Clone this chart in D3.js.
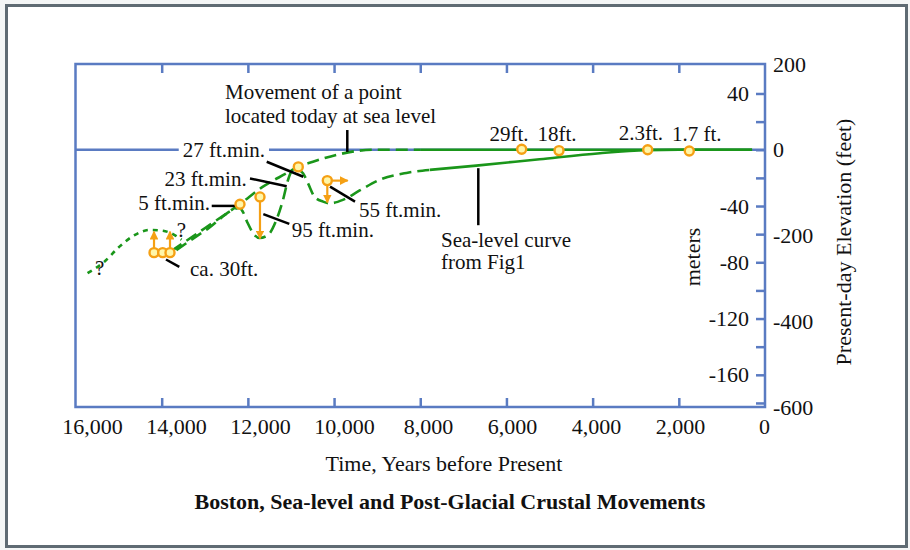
<!DOCTYPE html>
<html>
<head>
<meta charset="utf-8">
<script src="https://cdn.jsdelivr.net/npm/d3@7"></script>
<style>
  body { margin: 0; background: #f4f6f6; }
  svg { display: block; font-family: "Liberation Serif", "Times New Roman", serif; }
</style>
</head>
<body>
<svg id="chart" width="910" height="550"></svg>
<script>
// axis ticks and labels
const yearTicks = [14000, 12000, 10000, 8000, 6000, 4000, 2000];
const yearLabels = [16000, 14000, 12000, 10000, 8000, 6000, 4000, 2000, 0];
const meterTicks = [40, 20, 0, -20, -40, -60, -80, -100, -120, -140, -160, -180];
const meterLabels = [40, -40, -80, -120, -160];
const feetLabels = [200, 0, -200, -400, -600];

// curves, [years before present, feet]
const seaLevelDotted = [[15720, -288], [15330, -261], [14980, -226], [14630, -199], [14280, -187], [13970, -189], [13700, -199], [13540, -210]];
const seaLevelDashed = [[13660, -234], [12940, -185], [12190, -136], [12115, -145], [12005, -171], [11845, -199], [11730, -206], [11535, -199], [11340, -164], [11185, -117], [11070, -71], [10985, -50], [10870, -45], [10720, -55], [10605, -78], [10450, -110], [10255, -121], [10100, -125], [9795, -117], [9405, -95], [8940, -70], [8320, -54], [7780, -47]];
const seaLevelSolid = [[7780, -47], [6700, -37], [5230, -22], [3830, -8], [2750, -1], [2000, 0], [300, 0]];
const crustDashed = [[13770, -236], [13000, -183], [12190, -127], [11650, -86], [11105, -55], [10840, -40], [10490, -28], [9945, -12], [9405, -2], [9050, 0], [8000, 0]];
const crustSolid = [[8000, 0], [300, 0]];

// dated samples
const samples = [[14178, -240], [13977, -240], [13807, -240], [12183, -127], [11719, -110], [10830, -40], [10157, -72], [5646, 1], [4780, -2], [2722, 0], [1757, -3]];
const arrows = [
  [[14178, -240], [14178, -191]],
  [[13807, -240], [13807, -191]],
  [[11719, -110], [11719, -207]],
  [[10157, -72], [9684, -72]],
  [[10157, -72], [10157, -123]]
];

// annotations
const leaders = [
  [[11563, -28], [10714, -63]],
  [[11951, -67], [11099, -85]],
  [[12839, -131], [12259, -131]],
  [[11642, -150], [11039, -173]],
  [[10094, -86], [9514, -121]],
  [[13900, -256], [13591, -273]],
  [[9693, 46], [9693, -5]],
  [[6653, -43], [6653, -176]]
];
const notes = [
  { text: "27 ft.min.", at: [11603, -17], anchor: "end", halo: true },
  { text: "23 ft.min.", at: [12027, -85], anchor: "end" },
  { text: "5 ft.min.", at: [12879, -141], anchor: "end" },
  { text: "95 ft.min.", at: [10983, -203], anchor: "start" },
  { text: "55 ft.min.", at: [9421, -156], anchor: "start" },
  { text: "ca. 30ft.", at: [13343, -295], anchor: "start" },
  { text: "?", at: [15547, -292], anchor: "start" },
  { text: "?", at: [13652, -204], anchor: "start" },
  { text: "29ft.", at: [5941, 20], anchor: "middle" },
  { text: "18ft.", at: [4827, 20], anchor: "middle" },
  { text: "2.3ft.", at: [2878, 23], anchor: "middle" },
  { text: "1.7 ft.", at: [1585, 20], anchor: "middle" },
  { text: "Movement of a point", at: [12531, 118], anchor: "start" },
  { text: "located today at sea level", at: [12531, 63], anchor: "start" },
  { text: "Sea-level curve", at: [7519, -226], anchor: "start" },
  { text: "from Fig1", at: [7519, -277], anchor: "start" }
];

const blue = "#5a7bc2", green = "#1a961a", orange = "#f5a014";
const FT = 0.3048;

const svg = d3.select("#chart");

// outer frame
svg.append("rect")
  .attr("x", 6.5).attr("y", 5.5).attr("width", 900).attr("height", 541)
  .attr("fill", "white").attr("stroke", "#5f6b73").attr("stroke-width", 3);

const plotL = 75.5, plotR = 765, plotT = 64, plotB = 407;
const x = d3.scaleLinear().domain([16000, 0]).range([plotL, plotR]);
const xLab = d3.scaleLinear().domain([16000, 0]).range([92, 764]);
const yFt = d3.scaleLinear().domain([-600, 200]).range([plotB, plotT]);
const yM = d3.scaleLinear().domain([-600 * FT, 200 * FT]).range([plotB, plotT]);

// zero line
svg.append("line")
  .attr("x1", plotL).attr("x2", plotR)
  .attr("y1", yFt(0)).attr("y2", yFt(0))
  .attr("stroke", blue).attr("stroke-width", 2.5);

// ticks
function styleAxis(g) {
  g.select(".domain").remove();
  g.selectAll(".tick line").attr("stroke", blue).attr("stroke-width", 2.5);
  g.selectAll("text").attr("fill", "#111").style("font-size", "22px")
    .style("font-family", "'Liberation Serif', 'Times New Roman', serif");
}

svg.append("g").attr("transform", `translate(0,${plotB})`)
  .call(d3.axisTop(x).tickValues(yearTicks).tickSize(9).tickFormat(""))
  .call(styleAxis);
svg.append("g").attr("transform", `translate(0,${plotT})`)
  .call(d3.axisBottom(x).tickValues(yearTicks).tickSize(9).tickFormat(""))
  .call(styleAxis);
svg.append("g").attr("transform", `translate(0,${plotB})`)
  .call(d3.axisBottom(xLab).tickValues(yearLabels).tickSize(0).tickPadding(11).tickFormat(d3.format(",")))
  .call(styleAxis);

svg.append("g").attr("transform", `translate(${plotR},0)`)
  .call(d3.axisLeft(yM).tickValues(meterTicks).tickSize(9).tickPadding(7)
    .tickFormat(d => meterLabels.includes(d) ? String(d) : ""))
  .call(styleAxis);
svg.append("g").attr("transform", `translate(${plotR},0)`)
  .call(d3.axisRight(yFt).tickValues(feetLabels).tickSize(0).tickPadding(8).tickFormat(d => String(d)))
  .call(styleAxis);

// plot box
svg.append("rect")
  .attr("x", plotL).attr("y", plotT).attr("width", plotR - plotL).attr("height", plotB - plotT)
  .attr("fill", "none").attr("stroke", blue).attr("stroke-width", 2.5);

// curves
const line = d3.line().x(d => x(d[0])).y(d => yFt(d[1])).curve(d3.curveMonotoneX);
const curves = [
  [seaLevelDotted, "5,5"],
  [seaLevelDashed, "12,6"],
  [seaLevelSolid, null],
  [crustDashed, "12,6"],
  [crustSolid, null]
];
curves.forEach(([data, dash]) => {
  svg.append("path").datum(data)
    .attr("d", line)
    .attr("fill", "none").attr("stroke", green).attr("stroke-width", 2.6)
    .attr("stroke-dasharray", dash);
});

// leader lines
svg.append("g").selectAll("line").data(leaders).join("line")
  .attr("x1", d => x(d[0][0])).attr("y1", d => yFt(d[0][1]))
  .attr("x2", d => x(d[1][0])).attr("y2", d => yFt(d[1][1]))
  .attr("stroke", "#000").attr("stroke-width", 2.5);

// arrows
svg.append("defs").append("marker")
  .attr("id", "head").attr("viewBox", "0 0 10 10").attr("refX", 9).attr("refY", 5)
  .attr("markerWidth", 4).attr("markerHeight", 4).attr("orient", "auto")
  .append("path").attr("d", "M0,0L10,5L0,10Z").attr("fill", orange);

svg.append("g").selectAll("line").data(arrows).join("line")
  .attr("x1", d => x(d[0][0])).attr("y1", d => yFt(d[0][1]))
  .attr("x2", d => x(d[1][0])).attr("y2", d => yFt(d[1][1]))
  .attr("stroke", orange).attr("stroke-width", 2.2)
  .attr("marker-end", "url(#head)");

// sample circles
svg.append("g").selectAll("circle").data(samples).join("circle")
  .attr("cx", d => x(d[0])).attr("cy", d => yFt(d[1])).attr("r", 4.5)
  .attr("fill", "#fff6a8").attr("stroke", orange).attr("stroke-width", 2.4);

// notes
const noteG = svg.append("g");
const noteText = noteG.selectAll("text").data(notes).join("text")
  .attr("x", d => x(d.at[0])).attr("y", d => yFt(d.at[1]))
  .attr("text-anchor", d => d.anchor)
  .style("font-size", "21px").attr("fill", "#111")
  .text(d => d.text);

// white gap behind labels that sit on the zero line
noteText.filter(d => d.halo).each(function () {
  const b = this.getBBox();
  noteG.insert("rect", "text")
    .attr("x", b.x - 4).attr("y", b.y + 2).attr("width", b.width + 8).attr("height", b.height - 4)
    .attr("fill", "white");
});

// axis titles
svg.append("text").attr("transform", "translate(700,257) rotate(-90)")
  .attr("text-anchor", "middle").style("font-size", "22px").attr("fill", "#111").text("meters");
svg.append("text").attr("transform", "translate(851,242) rotate(-90)")
  .attr("text-anchor", "middle").style("font-size", "22px").attr("fill", "#111").text("Present-day Elevation (feet)");
svg.append("text").attr("x", 444).attr("y", 471)
  .attr("text-anchor", "middle").style("font-size", "22px").attr("fill", "#111").text("Time, Years before Present");
svg.append("text").attr("x", 450).attr("y", 509)
  .attr("text-anchor", "middle").style("font-size", "22px").style("font-weight", "bold").attr("fill", "#111")
  .text("Boston, Sea-level and Post-Glacial Crustal Movements");
</script>
</body>
</html>
